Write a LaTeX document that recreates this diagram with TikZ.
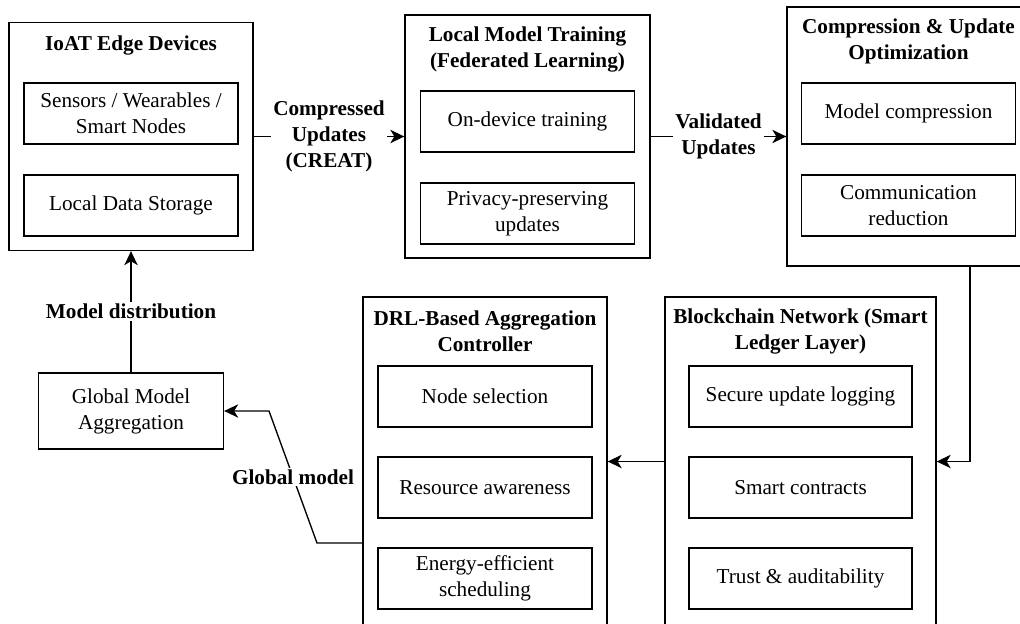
\documentclass[tikz,border=0pt]{standalone}
\usepackage{fontspec}
\setmainfont{Liberation Serif}
\usetikzlibrary{shapes,arrows,arrows.meta}
\usetikzlibrary{positioning}
\newcommand{\diagsize}{\fontsize{15.9}{19.5}\selectfont}
\tikzstyle{panel} = [rectangle, draw, line width=1pt, inner sep=0pt]
\tikzstyle{item} = [rectangle, draw, line width=1pt, font=\diagsize, align=center,
    minimum width=160.5pt, minimum height=45.75pt, inner sep=2pt, node distance=69pt]
\tikzstyle{heading} = [font=\diagsize\bfseries, align=center]
\tikzstyle{tag} = [font=\diagsize\bfseries, align=center, fill=white, inner sep=1.5pt]
\tikzstyle{line} = [draw, line width=1pt, -{Stealth[length=10.5pt,width=10pt,inset=3pt]}]

\begin{document}
\begin{tikzpicture}[x=0.75pt,y=-0.75pt]
    \path[use as bounding box, clip] (0,0) rectangle (1020,624);
    % Place nodes

    % edge devices
    \node [panel, minimum width=183pt, minimum height=171pt] (dev) at (131,136.5) {};
    \node [heading] (devtitle) at (131,45) {IoAT Edge Devices};
    \node [item] (sens) at (131,113.5) {Sensors / Wearables /\\Smart Nodes};
    \node [item, below of=sens] (store) {Local Data Storage};

    % local training
    \node [panel, minimum width=183.75pt, minimum height=182.25pt] (train) at (527.5,136.5) {};
    \node [heading] (traintitle) at (527.5,49.5) {Local Model Training\\(Federated Learning)};
    \node [item] (ondev) at (527.5,121.5) {On-device training};
    \node [item, below of=ondev] (priv) {Privacy-preserving\\updates};

    % compression
    \node [panel, minimum width=182.25pt, minimum height=194.25pt] (opt) at (908.5,136.5) {};
    \node [heading] (opttitle) at (908.5,41.5) {Compression \& Update\\Optimization};
    \node [item] (mcomp) at (908.5,113.5) {Model compression};
    \node [item, below of=mcomp] (cred) {Communication\\reduction};

    % blockchain
    \node [panel, minimum width=203.25pt, minimum height=246.75pt] (chain) at (800.5,461.5) {};
    \node [heading] (chaintitle) at (800.5,331) {Blockchain Network (Smart\\Ledger Layer)};
    \node [item, minimum width=167.25pt] (log) at (800.5,396.5) {Secure update logging};
    \node [item, minimum width=167.25pt, below of=log, node distance=68.25pt] (contract) {Smart contracts};
    \node [item, minimum width=167.25pt, below of=contract, node distance=68.25pt] (trust) {Trust \& auditability};

    % DRL controller
    \node [panel, minimum width=183pt, minimum height=246.75pt] (ctl) at (485,461.5) {};
    \node [heading] (ctltitle) at (485,331) {DRL-Based Aggregation\\Controller};
    \node [item] (nsel) at (485,396.5) {Node selection};
    \node [item, below of=nsel, node distance=68.25pt] (res) {Resource awareness};
    \node [item, below of=res, node distance=68.25pt] (sched) {Energy-efficient\\scheduling};

    % global aggregation
    \node [item, minimum width=138.75pt, minimum height=57pt] (agg) at (131,411) {Global Model\\Aggregation};

    %position bend points
    \coordinate (cturn) at (970,461.5);
    \coordinate (g1) at (317,543);
    \coordinate (g2) at (269,411);

    % Draw edges
    \path [line] (dev) -- node [tag] {Compressed\\Updates\\(CREAT)} (train);
    \path [line] (train) -- node [tag] {Validated\\Updates} (opt);
    \path [line] (opt.south -| cturn) |- (chain.east);
    \path [line] (chain) -- (ctl);
    \path [line] (ctl.west |- g1) -- (g1) -- node [tag] {Global model} (g2) -- (agg.east);
    \path [line] (agg) -- node [tag] {Model distribution} (dev);
\end{tikzpicture}
\end{document}
